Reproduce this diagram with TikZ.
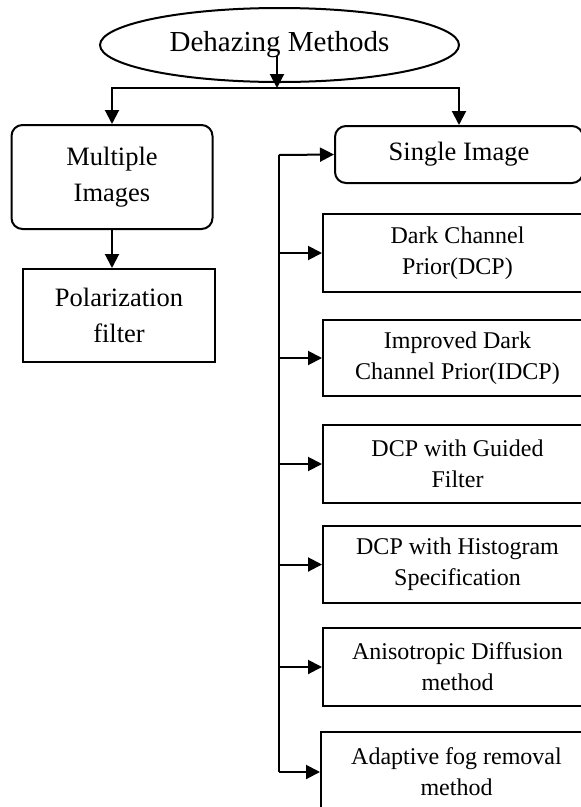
\documentclass[tikz,border=0pt]{standalone}
\usepackage{fontspec}
\setmainfont{Liberation Serif}
\usepackage{tikz}
\usetikzlibrary{shapes.geometric,arrows.meta}

\tikzset{
  arrowline/.style={line width=2pt, -{Triangle[length=14pt,width=14pt]}},
  plainline/.style={line width=2pt},
  roundbox/.style={draw, line width=2pt, rounded corners=11pt, align=center,
    inner sep=0pt, font=\fontsize{26.5}{36}\selectfont},
  leftbox/.style={draw, line width=2pt, align=center, inner sep=0pt,
    font=\fontsize{26.5}{36}\selectfont},
  methodbox/.style={draw, line width=2pt, align=center, inner sep=0pt,
    minimum width=269pt, minimum height=78pt,
    font=\fontsize{24}{31}\selectfont}
}

\begin{document}
\begin{tikzpicture}[x=1pt, y=-1pt]

\useasboundingbox (0,0) rectangle (581,807);


% Top of the tree
\node[draw, ellipse, line width=2pt, inner sep=0pt, minimum width=359pt,
  minimum height=74pt, font=\fontsize{29}{34}\selectfont] (methods) at (279.5,45)
  {Dehazing Methods};

\coordinate (split) at (277,88);
\coordinate (splittop) at (277,56);


%
% Multiple images branch
%
\node[roundbox, minimum width=201pt, minimum height=104pt] (multi) at (112,177)
  {Multiple\\Images};

\node[leftbox, minimum width=192pt, minimum height=93pt] (polar) at (119,315.5)
  {Polarization\\filter};


%
% Single image branch
%
\node[roundbox, minimum width=248pt, minimum height=57pt] (single) at (459,154.5)
  {Single Image};

\node[methodbox] (dcp) at (457.5,253) {Dark Channel\\Prior(DCP)};

\node[methodbox, minimum height=76pt] (idcp) at (457.5,358)
  {Improved Dark\\Channel Prior(IDCP)};

\node[methodbox] (guided) at (457.5,464) {DCP with Guided\\Filter};

\node[methodbox, minimum height=77pt] (hist) at (457.5,564.5)
  {DCP with Histogram\\Specification};

\node[methodbox] (aniso) at (457.5,667) {Anisotropic Diffusion\\method};

\node[methodbox, minimum width=271pt, minimum height=80pt] (adapt) at (456.5,772)
  {Adaptive fog removal\\method};

\coordinate (trunk) at (279,155);


% Connectors
\draw[arrowline] (splittop) -- (split);
\draw[arrowline] (split) -| (multi.north);
\draw[arrowline] (split) -| (single.north);

\draw[arrowline] (multi.south) -- (multi.south |- polar.north);

\draw[plainline] (trunk) -- (trunk |- adapt.west);
\draw[arrowline] (trunk) -- (single.west);

\foreach \m in {dcp, idcp, guided, hist, aniso, adapt}
  \draw[arrowline] (trunk |- \m.west) -- (\m.west);

\end{tikzpicture}
\end{document}
